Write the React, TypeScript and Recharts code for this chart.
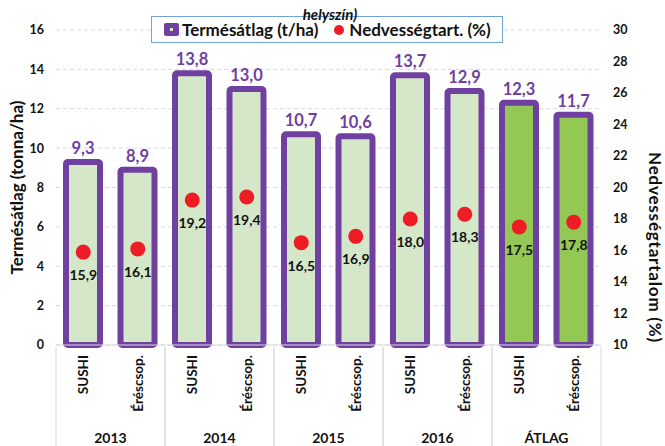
import React from 'react';
import {
  ComposedChart,
  XAxis,
  YAxis,
  CartesianGrid,
  Bar,
  Line,
  Cell,
  LabelList,
} from 'recharts';

const categories = ['SUSHI', 'Éréscsop.', 'SUSHI', 'Éréscsop.', 'SUSHI', 'Éréscsop.', 'SUSHI', 'Éréscsop.', 'SUSHI', 'Éréscsop.'];
const years = ['2013', '2013', '2014', '2014', '2015', '2015', '2016', '2016', 'ÁTLAG', 'ÁTLAG'];
const yieldValues = [9.3, 8.9, 13.8, 13.0, 10.7, 10.6, 13.7, 12.9, 12.3, 11.7];
const moistureValues = [15.9, 16.1, 19.2, 19.4, 16.5, 16.9, 18.0, 18.3, 17.5, 17.8];
const leftTicks = [0, 2, 4, 6, 8, 10, 12, 14, 16];
const rightTicks = [10, 12, 14, 16, 18, 20, 22, 24, 26, 28, 30];

const data = categories.map((cat, i) => ({
  cat,
  year: years[i],
  yield: yieldValues[i],
  moisture: moistureValues[i],
}));

const FONT = 'Lato, "Noto Sans", sans-serif';
const PURPLE = '#7040A0';
const RED = '#EE1C25';
const LIGHT_GREEN = '#D4E7C8';
const GREEN = '#92C853';
const GRID = '#D9D9D9';

const fmt = (v: any) => Number(v).toFixed(1).replace('.', ',');

// category label + group separators + year label
const CatTick = (props: any) => {
  const { x, y, payload, index } = props;
  const half = payload.offset || 27;
  const first = index === 0 || years[index] !== years[index - 1];
  const last = index === years.length - 1 || years[index] !== years[index + 1];
  return (
    <g>
      <text
        transform={`translate(${x},${y + 8}) rotate(-90)`}
        textAnchor="end"
        dominantBaseline="central"
        fontFamily={FONT}
        fontWeight={700}
        fontSize={13.5}
        fill="#111"
      >
        {payload.value}
      </text>
      {first && (
        <>
          <line x1={x - half} x2={x - half} y1={y} y2={446} stroke={GRID} />
          <text
            x={x + half}
            y={443}
            textAnchor="middle"
            fontFamily={FONT}
            fontWeight={700}
            fontSize={14}
            fill="#111"
          >
            {years[index]}
          </text>
        </>
      )}
      {last && <line x1={x + half} x2={x + half} y1={y} y2={446} stroke={GRID} />}
    </g>
  );
};

const LeftTitle = (props: any) => {
  const { viewBox } = props;
  const cy = viewBox.y + viewBox.height / 2;
  return (
    <text
      transform={`translate(16,${cy}) rotate(-90)`}
      textAnchor="middle"
      dominantBaseline="central"
      fontFamily={FONT}
      fontWeight={700}
      fontSize={17}
      fill="#111"
    >
      Termésátlag (tonna/ha)
    </text>
  );
};

const RightTitle = (props: any) => {
  const { viewBox } = props;
  const cy = viewBox.y + viewBox.height / 2 + 60;
  return (
    <text
      transform={`translate(655,${cy}) rotate(90)`}
      textAnchor="middle"
      dominantBaseline="central"
      fontFamily={FONT}
      fontWeight={700}
      fontSize={17}
      letterSpacing={0.8}
      fill="#111"
    >
      Nedvességtartalom (%)
    </text>
  );
};

const tickStyle = { fontFamily: FONT, fontWeight: 700, fontSize: 12.5, fill: '#111' };

export default function App() {
  return (
    <div style={{ position: 'absolute', left: 0, top: 0, width: 665, height: 446, background: '#fff' }}>
      <ComposedChart
        width={665}
        height={446}
        data={data}
        margin={{ top: 30, right: 0, bottom: 0, left: 0 }}
      >
        <CartesianGrid yAxisId="l" vertical={false} stroke={GRID} strokeDasharray="4 3" />
        <XAxis
          dataKey="cat"
          height={101}
          tickLine={false}
          tickSize={0}
          axisLine={{ stroke: GRID }}
          interval={0}
          tick={<CatTick />}
        />
        <YAxis
          yAxisId="l"
          width={56}
          domain={[0, 16]}
          ticks={leftTicks}
          axisLine={false}
          tickLine={false}
          tickSize={0}
          tickMargin={12}
          tick={tickStyle}
          label={<LeftTitle />}
        />
        <YAxis
          yAxisId="r"
          orientation="right"
          width={64}
          domain={[10, 30]}
          ticks={rightTicks}
          axisLine={false}
          tickLine={false}
          tickSize={0}
          tickMargin={12}
          tick={{ ...tickStyle, textAnchor: 'start' }}
          label={<RightTitle />}
        />
        <Bar
          yAxisId="l"
          dataKey="yield"
          barSize={34}
          stroke={PURPLE}
          strokeWidth={6}
          radius={2}
          isAnimationActive={false}
        >
          {data.map((d, i) => (
            <Cell key={i} fill={d.year === 'ÁTLAG' ? GREEN : LIGHT_GREEN} />
          ))}
          <LabelList
            dataKey="yield"
            position="top"
            offset={8}
            formatter={fmt}
            style={{ fontFamily: FONT, fontWeight: 700, fontSize: 16.5, fill: PURPLE }}
          />
        </Bar>
        <Line
          yAxisId="r"
          dataKey="moisture"
          stroke="none"
          dot={{ r: 7.5, fill: RED, stroke: 'none' }}
          activeDot={false}
          isAnimationActive={false}
        >
          <LabelList
            dataKey="moisture"
            position="bottom"
            offset={18}
            formatter={fmt}
            style={{ fontFamily: FONT, fontWeight: 700, fontSize: 14, fill: '#111' }}
          />
        </Line>
      </ComposedChart>

      <div
        style={{
          position: 'absolute',
          left: 151,
          top: 16,
          width: 352,
          height: 27,
          boxSizing: 'border-box',
          border: '1px solid #6FA3DA',
          background: '#fff',
          display: 'flex',
          alignItems: 'center',
          paddingLeft: 12,
          fontFamily: FONT,
          fontWeight: 700,
          fontSize: 17,
          color: '#111',
          whiteSpace: 'nowrap',
        }}
      >
        <span
          style={{
            display: 'inline-block',
            width: 15,
            height: 13,
            background: PURPLE,
            borderRadius: 2,
            position: 'relative',
            marginRight: 3,
          }}
        >
          <span
            style={{
              position: 'absolute',
              left: 6,
              top: 5,
              width: 3,
              height: 3,
              background: LIGHT_GREEN,
            }}
          />
        </span>
        <span>Termésátlag (t/ha)</span>
        <span
          style={{
            display: 'inline-block',
            width: 10,
            height: 10,
            borderRadius: 5,
            background: RED,
            marginLeft: 16,
            marginRight: 5,
          }}
        />
        <span>Nedvességtart. (%)</span>
      </div>

      <div
        style={{
          position: 'absolute',
          left: 0,
          top: 7,
          width: 660,
          textAlign: 'center',
          fontFamily: FONT,
          fontWeight: 700,
          fontStyle: 'italic',
          fontSize: 15,
          lineHeight: '15px',
          color: '#111',
        }}
      >
        helyszín)
      </div>
    </div>
  );
}
